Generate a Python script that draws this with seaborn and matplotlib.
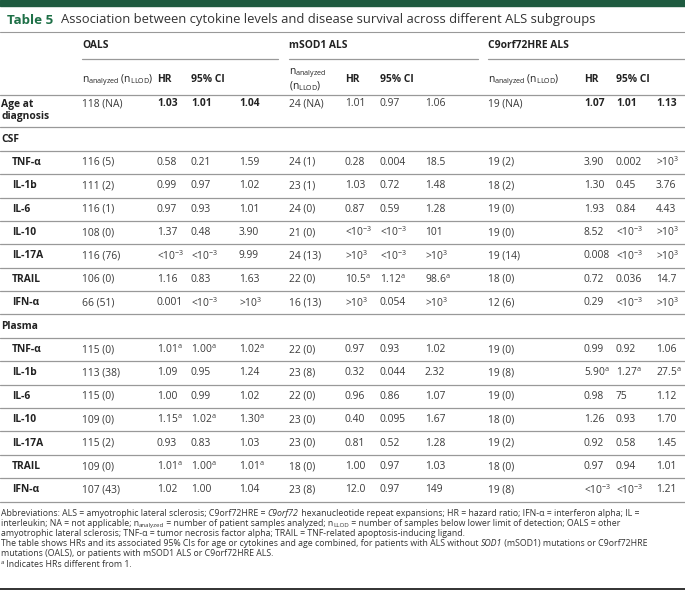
import matplotlib
matplotlib.use("Agg")
import matplotlib.pyplot as plt
import seaborn as sns

sns.set_theme(style="white")
plt.rcParams["font.family"] = ["Open Sans", "DejaVu Sans"]
plt.rcParams["mathtext.fontset"] = "custom"
plt.rcParams["mathtext.rm"] = "Open Sans"
plt.rcParams["mathtext.it"] = "Open Sans:italic"
plt.rcParams["mathtext.bf"] = "Open Sans:bold"

LT = r"<10$^{-3}$"
GT = r">10$^{3}$"
A = r"$^{\mathrm{a}}$"

groups = ["OALS", "mSOD1 ALS", "C9orf72HRE ALS"]
cytokines = ["TNF-α", "IL-1b", "IL-6", "IL-10", "IL-17A", "TRAIL", "IFN-α"]

age_n = ["118 (NA)", "24 (NA)", "19 (NA)"]
age_hr = ["1.03", "1.01", "1.07"]
age_lo = ["1.01", "0.97", "1.01"]
age_hi = ["1.04", "1.06", "1.13"]
age_bold = [True, False, True]

# CSF
csf_oals_n = ["116 (5)", "111 (2)", "116 (1)", "108 (0)", "116 (76)", "106 (0)", "66 (51)"]
csf_oals_hr = ["0.58", "0.99", "0.97", "1.37", LT, "1.16", "0.001"]
csf_oals_lo = ["0.21", "0.97", "0.93", "0.48", LT, "0.83", LT]
csf_oals_hi = ["1.59", "1.02", "1.01", "3.90", "9.99", "1.63", GT]

csf_sod_n = ["24 (1)", "23 (1)", "24 (0)", "21 (0)", "24 (13)", "22 (0)", "16 (13)"]
csf_sod_hr = ["0.28", "1.03", "0.87", LT, GT, "10.5" + A, GT]
csf_sod_lo = ["0.004", "0.72", "0.59", LT, LT, "1.12" + A, "0.054"]
csf_sod_hi = ["18.5", "1.48", "1.28", "101", GT, "98.6" + A, GT]

csf_c9_n = ["19 (2)", "18 (2)", "19 (0)", "19 (0)", "19 (14)", "18 (0)", "12 (6)"]
csf_c9_hr = ["3.90", "1.30", "1.93", "8.52", "0.008", "0.72", "0.29"]
csf_c9_lo = ["0.002", "0.45", "0.84", LT, LT, "0.036", LT]
csf_c9_hi = [GT, "3.76", "4.43", GT, GT, "14.7", GT]

# Plasma
pl_oals_n = ["115 (0)", "113 (38)", "115 (0)", "109 (0)", "115 (2)", "109 (0)", "107 (43)"]
pl_oals_hr = ["1.01" + A, "1.09", "1.00", "1.15" + A, "0.93", "1.01" + A, "1.02"]
pl_oals_lo = ["1.00" + A, "0.95", "0.99", "1.02" + A, "0.83", "1.00" + A, "1.00"]
pl_oals_hi = ["1.02" + A, "1.24", "1.02", "1.30" + A, "1.03", "1.01" + A, "1.04"]

pl_sod_n = ["22 (0)", "23 (8)", "22 (0)", "23 (0)", "23 (0)", "18 (0)", "23 (8)"]
pl_sod_hr = ["0.97", "0.32", "0.96", "0.40", "0.81", "1.00", "12.0"]
pl_sod_lo = ["0.93", "0.044", "0.86", "0.095", "0.52", "0.97", "0.97"]
pl_sod_hi = ["1.02", "2.32", "1.07", "1.67", "1.28", "1.03", "149"]

pl_c9_n = ["19 (0)", "19 (8)", "19 (0)", "18 (0)", "19 (2)", "18 (0)", "19 (8)"]
pl_c9_hr = ["0.99", "5.90" + A, "0.98", "1.26", "0.92", "0.97", LT]
pl_c9_lo = ["0.92", "1.27" + A, "75", "0.93", "0.58", "0.94", LT]
pl_c9_hi = ["1.06", "27.5" + A, "1.12", "1.70", "1.45", "1.01", "1.21"]

csf = [(csf_oals_n, csf_oals_hr, csf_oals_lo, csf_oals_hi),
       (csf_sod_n, csf_sod_hr, csf_sod_lo, csf_sod_hi),
       (csf_c9_n, csf_c9_hr, csf_c9_lo, csf_c9_hi)]
plasma = [(pl_oals_n, pl_oals_hr, pl_oals_lo, pl_oals_hi),
          (pl_sod_n, pl_sod_hr, pl_sod_lo, pl_sod_hi),
          (pl_c9_n, pl_c9_hr, pl_c9_lo, pl_c9_hi)]

# footnote lines as runs: (text, style) where style is "", "i" (italic) or "sub"/"sup"
footnotes = [
    [("Abbreviations: ALS = amyotrophic lateral sclerosis; C9orf72HRE = ", ""), ("C9orf72", "i"),
     (" hexanucleotide repeat expansions; HR = hazard ratio; IFN-α = interferon alpha; IL =", "")],
    [("interleukin; NA = not applicable; n", ""), ("analyzed", "sub"),
     (" = number of patient samples analyzed; n", ""), ("LLOD", "sub"),
     (" = number of samples below lower limit of detection; OALS = other", "")],
    [("amyotrophic lateral sclerosis; TNF-α = tumor necrosis factor alpha; TRAIL = TNF-related apoptosis-inducing ligand.", "")],
    [("The table shows HRs and its associated 95% CIs for age or cytokines and age combined, for patients with ALS without ", ""),
     ("SOD1", "i"), (" (mSOD1) mutations or C9orf72HRE", "")],
    [("mutations (OALS), or patients with mSOD1 ALS or C9orf72HRE ALS.", "")],
    [("a", "sup"), (" Indicates HRs different from 1.", "")],
]

# layout (pixels)
W, H = 685, 595
group_x = [82, 289, 488]
col_offs = [[0, 75, 109, 157], [0, 56, 91, 136], [0, 96, 128, 168]]
ul_end = [278, 478, 685]
row_step = 23.4
TXT = "#3a3a3a"
HDR = "#222222"
LINE = "#999999"
FS = 7.4
FN = 6.3

fig = plt.figure(figsize=(W / 100, H / 100), dpi=100)
ax = fig.add_axes([0, 0, 1, 1])
ax.set_xlim(0, W)
ax.set_ylim(H, 0)
ax.axis("off")
renderer = fig.canvas.get_renderer()

ax.axhspan(0, 5.5, color="#1f5b40")
ax.text(7, 20, "Table 5", fontsize=9.6, fontweight="bold", color="#1e7047", va="center")
ax.text(61, 20, "Association between cytokine levels and disease survival across different ALS subgroups",
        fontsize=9.4, color="#333333", va="center")
ax.axhline(32, color=LINE, lw=0.8)

for g, (name, gx) in enumerate(zip(groups, group_x)):
    offs = col_offs[g]
    ax.text(gx, 46, name, fontsize=FS, fontweight="bold", color=HDR, va="center")
    ax.plot([gx, ul_end[g]], [59, 59], color=LINE, lw=0.9)
    if g == 1:
        ax.text(gx, 73, r"n$_{\mathrm{analyzed}}$", fontsize=FS, color=HDR, va="center")
        ax.text(gx, 86, r"(n$_{\mathrm{LLOD}}$)", fontsize=FS, color=HDR, va="center")
    else:
        ax.text(gx, 80, r"n$_{\mathrm{analyzed}}$ (n$_{\mathrm{LLOD}}$)", fontsize=FS,
                color=HDR, va="center")
    ax.text(gx + offs[1], 80, "HR", fontsize=FS, fontweight="bold", color=HDR, va="center")
    ax.text(gx + offs[2], 80, "95% CI", fontsize=FS, fontweight="bold", color=HDR, va="center")
ax.axhline(95, color=LINE, lw=0.9)

# age row
ax.text(1, 104, "Age at", fontsize=FS, fontweight="bold", color=HDR, va="center")
ax.text(1, 117, "diagnosis", fontsize=FS, fontweight="bold", color=HDR, va="center")
for g, gx in enumerate(group_x):
    offs = col_offs[g]
    wt = "bold" if age_bold[g] else "normal"
    col = HDR if age_bold[g] else TXT
    ax.text(gx, 104, age_n[g], fontsize=FS, color=TXT, va="center")
    for k, v in zip(offs[1:], [age_hr[g], age_lo[g], age_hi[g]]):
        ax.text(gx + k, 104, v, fontsize=FS, fontweight=wt, color=col, va="center")
ax.axhline(127, color=LINE, lw=0.9)

y = 139
for section, data in [("CSF", csf), ("Plasma", plasma)]:
    ax.text(1, y, section, fontsize=FS, fontweight="bold", color=HDR, va="center")
    ax.axhline(y + row_step / 2, color=LINE, lw=0.9)
    y += row_step
    for i, cyt in enumerate(cytokines):
        ax.text(12, y, cyt, fontsize=FS, fontweight="bold", color=HDR, va="center")
        for g, gx in enumerate(group_x):
            for k, col in zip(col_offs[g], data[g]):
                ax.text(gx + k, y, col[i], fontsize=FS, color=TXT, va="center")
        ax.axhline(y + row_step / 2, color=LINE, lw=0.9)
        y += row_step

# footnotes, drawn run by run on a shared baseline
fy = y - row_step / 2 + 14
for runs in footnotes:
    x = 1
    for txt, st in runs:
        size, dy, style = FN, 0, "normal"
        if st == "i":
            style = "italic"
        elif st == "sub":
            size, dy = FN * 0.7, 1.5
        elif st == "sup":
            size, dy = FN * 0.7, -3
        t = ax.text(x, fy + dy, txt, fontsize=size, fontstyle=style, color="#333333",
                    va="baseline")
        bb = t.get_window_extent(renderer)
        x += bb.width
    fy += 10.2

ax.axhline(589, color="#222222", lw=1.3)

fig.savefig("out.png", dpi=100)
